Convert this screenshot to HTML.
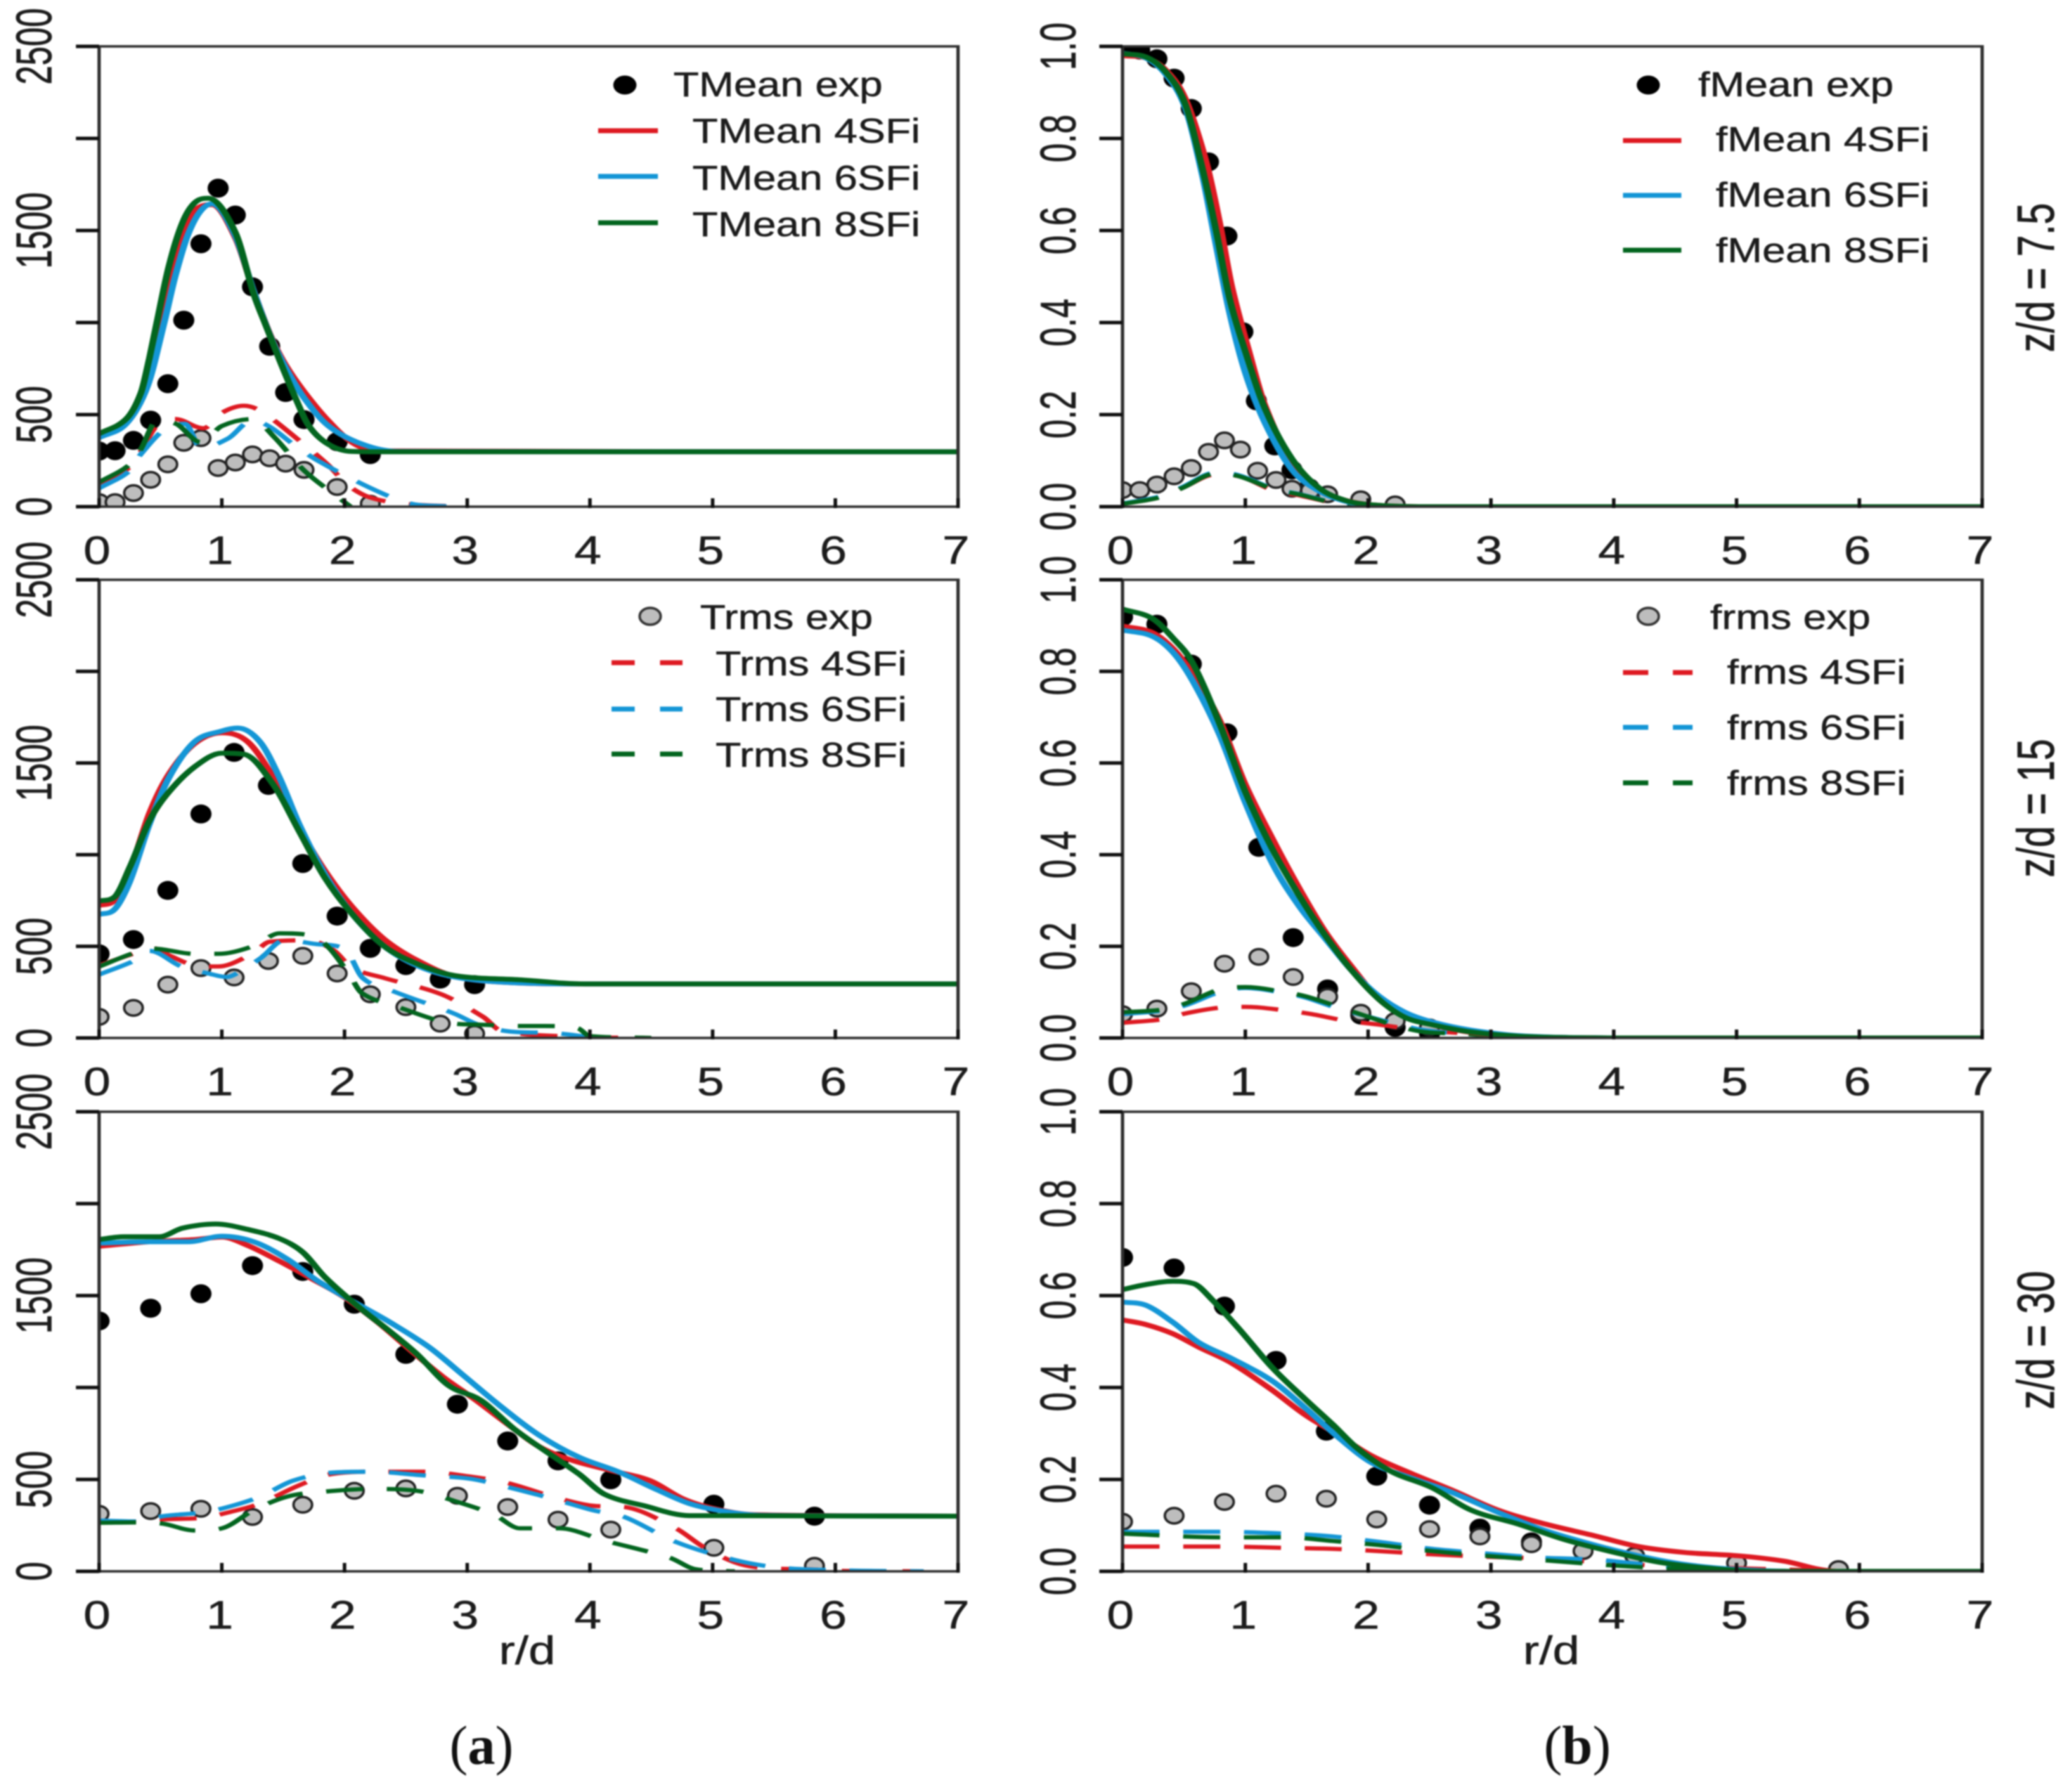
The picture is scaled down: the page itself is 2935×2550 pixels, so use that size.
<!DOCTYPE html>
<html lang="en">
<head>
<meta charset="utf-8">
<title>Radial profiles of T and f at three z/d stations</title>
<style>
html,body{margin:0;padding:0;background:#fff;}
#fig{display:block;width:2935px;height:2550px;filter:blur(1px);}
text{font-family:"Liberation Sans",sans-serif;fill:#1c1c1c;stroke:#1c1c1c;stroke-width:.5px;}
text.serif{font-family:"Liberation Serif",serif;fill:#111;stroke:none;}
</style>
</head>
<body>
<svg id="fig" xmlns="http://www.w3.org/2000/svg" width="2935" height="2550" viewBox="0 0 2935 2550"></svg>
<script>
/* axis tick data */
const xTicks = [0,1,2,3,4,5,6,7];
const tTicks = [0,500,1000,1500,2000,2500];
const tTickLabels = ['0','500','','1500','','2500'];
const fTicks = [0,0.2,0.4,0.6,0.8,1.0];
const fTickLabels = ['0.0','0.2','0.4','0.6','0.8','1.0'];

/* panel a1: temperature, z/d = 7.5 */
const a1MeanExpR = [0,.13,.28,.42,.56,.69,.83,.97,1.11,1.25,1.39,1.52,1.67,1.94,2.21];
const a1MeanExpV = [302,304,360,470,668,1013,1428,1730,1584,1194,871,620,473,353,283];
const a1RmsExpR = [0,.13,.28,.42,.56,.69,.83,.97,1.11,1.25,1.39,1.52,1.67,1.94,2.21];
const a1RmsExpV = [25,25,74,146,230,347,372,210,240,284,263,234,200,107,16];
const a1MeanRedR = [0,.22,.37,.5,.6,.7,.8,.92,1.11,1.26,1.4,1.52,1.67,1.87,2.06,2.25,7];
const a1MeanRedV = [385,465,640,999,1270,1490,1620,1640,1460,1170,925,770,625,465,350,303,298];
const a1MeanBlueR = [0,.22,.395,.53,.62,.72,.82,.92,1.11,1.26,1.4,1.52,1.67,1.87,2.15,2.44,7];
const a1MeanBlueV = [375,450,655,999,1250,1470,1600,1645,1470,1170,920,755,591,438,338,300,298];
const a1MeanGreenR = [0,.22,.34,.41,.47,.57,.68,.78,.89,1.11,1.26,1.35,1.48,1.6,1.71,1.87,2.06,2.3,7];
const a1MeanGreenV = [396,476,617,808,999,1310,1544,1651,1675,1490,1155,999,781,591,438,338,300,298,298];
const a1RmsRedR = [0,.24,.34,.47,.62,.85,1,1.18,1.33,1.67,1.87,2.02,2.2,2.5,3];
const a1RmsRedV = [125,210,300,440,476,426,510,548,514,338,224,121,52,15,0];
const a1RmsBlueR = [0,.24,.34,.53,.7,.83,1.05,1.25,1.4,1.58,1.79,2.21,2.53,2.8,3];
const a1RmsBlueV = [100,190,285,418,450,320,370,470,430,340,247,102,18,3,0];
const a1RmsGreenR = [0,.24,.34,.47,.62,.83,1,1.25,1.43,1.67,1.96,2.05];
const a1RmsGreenV = [133,224,312,464,452,350,438,476,376,197,45,0];

/* panel a2: temperature, z/d = 15 */
const a2MeanExpR = [0,.28,.56,.83,1.10,1.38,1.66,1.94,2.21,2.50,2.78,3.06];
const a2MeanExpV = [459,537,805,1222,1558,1378,952,665,489,395,321,291];
const a2RmsExpR = [0,.28,.56,.83,1.10,1.38,1.66,1.94,2.21,2.50,2.78,3.06];
const a2RmsExpV = [115,164,291,381,330,420,448,352,238,168,78,23];
const a2MeanRedR = [0,.12,.25,.41,.57,.78,1,1.21,1.42,1.63,1.84,2.06,2.32,2.59,2.9,3.33,3.96,7];
const a2MeanRedV = [723,747,913,1226,1441,1607,1665,1617,1421,1147,913,717,541,424,336,303,295,295];
const a2MeanBlueR = [0,.12,.25,.41,.57,.78,1,1.13,1.31,1.47,1.63,1.84,2.06,2.32,2.59,2.9,3.33,3.96,7];
const a2MeanBlueV = [674,698,854,1167,1421,1617,1675,1691,1617,1421,1167,893,678,502,395,332,303,295,295];
const a2MeanGreenR = [0,.12,.25,.41,.57,.78,1,1.18,1.42,1.63,1.84,2.06,2.32,2.59,2.9,3.44,3.96,7];
const a2MeanGreenV = [747,766,932,1186,1343,1480,1554,1548,1382,1128,874,678,502,405,340,317,295,295];
const a2RmsRedR = [0,.28,.44,.58,.75,.97,1.25,1.39,1.7,1.91,2.06,2.33,2.79,3.13,3.28,4,4.5];
const a2RmsRedV = [395,460,490,448,402,390,460,525,533,479,383,326,238,115,38,5,0];
const a2RmsBlueR = [0,.28,.41,.67,.89,1.04,1.17,1.32,1.51,1.76,2.0,2.15,2.42,2.89,3.09,3.35,3.7,4];
const a2RmsBlueV = [346,420,475,390,352,333,372,437,533,513,487,326,249,134,73,35,27,5];
const a2RmsGreenR = [0,.28,.44,.78,.97,1.26,1.47,1.74,1.88,2.04,2.14,2.42,2.91,3.09,3.45,3.63,3.9,4,4.5];
const a2RmsGreenV = [389,463,487,459,459,502,571,557,487,345,245,172,77,73,65,65,53,10,0];

/* panel a3: temperature, z/d = 30 */
const a3MeanExpR = [0,.42,.83,1.25,1.66,2.08,2.50,2.92,3.33,3.74,4.17,5.01,5.83];
const a3MeanExpV = [1362,1431,1510,1663,1631,1453,1180,909,709,601,498,365,300];
const a3RmsExpR = [0,.42,.83,1.25,1.66,2.08,2.50,2.92,3.33,3.74,4.17,5.01,5.83];
const a3RmsExpV = [313,328,340,296,362,438,451,411,350,281,227,128,30];
const a3MeanRedR = [0,.41,.78,1,1.21,1.47,1.74,2,2.27,2.53,2.8,3.06,3.33,3.59,3.86,4.17,4.49,4.76,5.02,5.34,7];
const a3MeanRedV = [1768,1793,1805,1818,1773,1687,1589,1490,1355,1207,1059,936,800,677,603,549,493,394,340,308,300];
const a3MeanBlueR = [0,.41,.73,1,1.26,1.53,1.79,2.11,2.37,2.69,2.96,3.27,3.59,3.91,4.23,4.55,4.81,5.08,5.39,7];
const a3MeanBlueV = [1786,1793,1793,1823,1793,1700,1576,1453,1355,1219,1071,899,739,621,542,443,369,328,305,300];
const a3MeanGreenR = [0,.2,.49,.68,.95,1.21,1.47,1.66,1.84,2.11,2.37,2.59,2.85,3.11,3.38,3.64,3.91,4.12,4.44,4.81,7];
const a3MeanGreenV = [1805,1820,1820,1867,1889,1860,1810,1736,1601,1441,1305,1182,1010,931,776,653,530,419,357,303,300];
const a3RmsRedR = [0,.31,.52,.84,1.05,1.31,1.63,1.9,2.27,2.64,3.01,3.33,3.7,4.02,4.28,4.7,4.92,5.18,5.39,5.82,6.08,6.72];
const a3RmsRedV = [271,271,283,291,320,369,468,530,542,542,517,480,406,357,350,234,135,49,20,10,2,0];
const a3RmsBlueR = [0,.31,.52,.84,1.05,1.31,1.58,1.9,2.22,2.64,3.01,3.27,3.7,4.02,4.28,4.7,5.18,5.55,6.08,6.72];
const a3RmsBlueV = [276,271,300,320,350,406,493,537,542,522,505,468,394,333,296,160,62,20,5,0];
const a3RmsGreenR = [0,.31,.52,.78,1,1.26,1.53,1.79,2.22,2.59,2.9,3.22,3.43,3.75,4.12,4.65,4.86,5.18];
const a3RmsGreenV = [264,266,259,222,234,333,406,431,448,438,382,308,234,234,167,74,12,0];

/* panel b1: mixture fraction, z/d = 7.5 */
const b1MeanExpR = [0,.14,.28,.42,.56,.70,.85,.98,1.09,1.24,1.38,1.52];
const b1MeanExpV = [1.0,.992,.973,.931,.865,.749,.588,.38,.23,.132,.08,.041];
const b1RmsExpR = [0,.14,.28,.42,.56,.70,.83,.96,1.10,1.25,1.38,1.53,1.67,1.94,2.22];
const b1RmsExpV = [.036,.036,.048,.066,.084,.119,.144,.124,.078,.058,.039,.035,.027,.016,.005];
const b1MeanRedR = [0,.19,.35,.51,.68,.79,.89,1.03,1.16,1.38,1.6,1.81,2.03,2.41,7];
const b1MeanRedV = [.98,.975,.949,.887,.75,.618,.478,.337,.22,.096,.037,.014,.004,0,0];
const b1MeanBlueR = [0,.19,.35,.51,.65,.76,.87,1,1.16,1.38,1.6,1.81,2.03,2.41,7];
const b1MeanBlueV = [.985,.975,.94,.867,.72,.571,.423,.291,.182,.08,.034,.012,.003,0,0];
const b1MeanGreenR = [0,.19,.35,.51,.65,.76,.87,1,1.16,1.38,1.6,1.81,2.03,2.41,7];
const b1MeanGreenV = [.984,.977,.945,.875,.735,.602,.454,.337,.213,.104,.041,.014,.004,0,0];
const b1RmsRedR = [0,.3,.49,.76,.95,1.24,1.43,1.76,2.03];
const b1RmsRedV = [.006,.02,.041,.07,.066,.034,.025,.006,0];
const b1RmsBlueR = [0,.3,.49,.76,.95,1.24,1.43,1.76,2.03];
const b1RmsBlueV = [.007,.022,.043,.074,.068,.038,.028,.007,0];
const b1RmsGreenR = [0,.3,.49,.76,.95,1.24,1.43,1.76,2.03];
const b1RmsGreenV = [.006,.02,.041,.072,.066,.037,.027,.006,0];

/* panel b2: mixture fraction, z/d = 15 */
const b2MeanExpR = [0,.28,.56,.85,1.11,1.39,1.67,1.94,2.22,2.50];
const b2MeanExpV = [.919,.903,.816,.666,.416,.219,.107,.05,.023,.01];
const b2RmsExpR = [0,.28,.56,.83,1.11,1.39,1.67,1.94,2.22,2.50];
const b2RmsExpV = [.052,.064,.102,.162,.177,.133,.09,.055,.037,.023];
const b2MeanRedR = [0,.24,.41,.57,.79,1,1.22,1.44,1.65,1.87,2.09,2.30,2.52,2.84,3.28,4.04,7];
const b2MeanRedV = [.899,.885,.85,.795,.694,.553,.435,.326,.232,.154,.084,.048,.029,.012,.003,0,0];
const b2MeanBlueR = [0,.24,.41,.57,.79,1,1.22,1.44,1.65,1.87,2.09,2.30,2.52,2.84,3.28,4.04,7];
const b2MeanBlueV = [.89,.877,.842,.78,.662,.514,.381,.287,.217,.146,.091,.056,.035,.017,.004,0,0];
const b2MeanGreenR = [0,.24,.41,.57,.79,1,1.22,1.44,1.65,1.87,2.09,2.30,2.52,2.84,3.28,4.04,7];
const b2MeanGreenV = [.936,.916,.873,.819,.686,.537,.412,.31,.224,.146,.084,.045,.029,.013,.003,0,0];
const b2RmsRedR = [0,.33,.52,.79,1,1.33,1.54,1.81,2.09,2.36,2.84,3.33,4.3];
const b2RmsRedV = [.033,.041,.054,.066,.068,.06,.052,.038,.029,.019,.009,.002,0];
const b2RmsBlueR = [0,.33,.52,.79,1,1.3,1.49,1.76,1.98,2.25,2.46,2.79,3.33,4.3];
const b2RmsBlueV = [.052,.06,.072,.1,.109,.099,.088,.064,.048,.029,.017,.009,.003,0];
const b2RmsGreenR = [0,.33,.52,.79,1,1.3,1.49,1.76,1.98,2.25,2.46,2.79,3.06,4.3];
const b2RmsGreenV = [.056,.062,.076,.106,.111,.101,.091,.068,.048,.025,.013,.009,.003,0];

/* panel b3: mixture fraction, z/d = 30 */
const b3MeanExpR = [0,.42,.83,1.25,1.66,2.07,2.50,2.91,3.33];
const b3MeanExpV = [.683,.66,.577,.459,.305,.207,.144,.094,.064];
const b3RmsExpR = [0,.42,.83,1.25,1.66,2.07,2.50,2.91,3.33,3.75,4.17,5.0,5.83];
const b3RmsExpV = [.108,.121,.151,.169,.158,.113,.092,.076,.059,.044,.034,.018,.005];
const b3MeanRedR = [0,.19,.41,.62,.89,1.22,1.49,1.76,2.03,2.36,2.68,3.06,3.44,3.82,4.2,4.58,5.01,5.39,5.66,5.82,7];
const b3MeanRedV = [.547,.537,.517,.488,.453,.394,.34,.296,.251,.212,.177,.133,.103,.079,.054,.041,.034,.022,.005,0,0];
const b3MeanBlueR = [0,.19,.41,.62,.89,1.22,1.49,1.76,2.03,2.36,2.68,3.06,3.44,3.82,4.2,4.58,5.01,5.5,7];
const b3MeanBlueV = [.586,.579,.542,.498,.463,.414,.355,.291,.236,.202,.172,.128,.089,.059,.034,.015,.004,0,0];
const b3MeanGreenR = [0,.19,.41,.58,.73,.95,1.22,1.49,1.71,1.92,2.19,2.52,2.84,3.22,3.6,4.04,4.41,4.85,5.23,7];
const b3MeanGreenV = [.613,.624,.631,.626,.591,.527,.443,.374,.32,.266,.217,.182,.133,.103,.069,.039,.018,.005,0,0];
const b3RmsRedR = [0,.79,1.33,1.71,2.09,2.52,2.95,3.39,3.87,4.36,4.85,5.66,6];
const b3RmsRedV = [.054,.054,.051,.049,.044,.037,.032,.028,.02,.012,.008,.002,0];
const b3RmsBlueR = [0,.79,1.33,1.71,2.09,2.52,2.95,3.39,3.87,4.36,4.85,5.39];
const b3RmsBlueV = [.086,.086,.082,.076,.064,.049,.039,.03,.025,.012,.002,0];
const b3RmsGreenR = [0,.79,1.33,1.71,2.09,2.52,2.95,3.39,3.87,4.36,4.85,5.39];
const b3RmsGreenV = [.082,.074,.074,.066,.057,.044,.034,.025,.015,.007,.001,0];

/* series colours */
const redColor = '#de1a22';
const blueColor = '#1496d6';
const greenColor = '#03651f';

const NS = 'http://www.w3.org/2000/svg';
const svg = document.getElementById('fig');
/* the source figure is stretched horizontally; strokes and dashes are drawn in that stretched space */
const stretch = 1.35;

function mk(tag, parent, attrs) {
  const e = document.createElementNS(NS, tag);
  for (const k in attrs) e.setAttribute(k, attrs[k]);
  parent.appendChild(e);
  return e;
}

function label(parent, str, x, y, fs, sx, sy, rot, anchor, name) {
  const t = mk('text', parent, {
    'font-size': fs,
    'text-anchor': anchor,
    transform: 'translate(' + x + ',' + y + ')' + (rot ? ' rotate(-90)' : '') + ' scale(' + sx + ',' + sy + ')'
  });
  t.textContent = str;
  
  
  return t;
}

function curvePath(sx, sy, rs, vs) {
  const n = rs.length;
  const px = rs.map(r => sx(r) / stretch), py = vs.map(sy);
  const m = [];
  for (let i = 0; i < n; i++) {
    if (i === 0) m.push((py[1] - py[0]) / (px[1] - px[0]));
    else if (i === n - 1) m.push((py[n - 1] - py[n - 2]) / (px[n - 1] - px[n - 2]));
    else {
      const a = (py[i] - py[i - 1]) / (px[i] - px[i - 1]);
      const b = (py[i + 1] - py[i]) / (px[i + 1] - px[i]);
      if (a * b <= 0) m.push(0);
      else {
        const c = (py[i + 1] - py[i - 1]) / (px[i + 1] - px[i - 1]);
        const lim = 3 * Math.min(Math.abs(a), Math.abs(b));
        m.push(Math.sign(c) * Math.min(Math.abs(c), lim));
      }
    }
  }
  let d = 'M' + px[0].toFixed(1) + ' ' + py[0].toFixed(1);
  for (let i = 0; i < n - 1; i++) {
    const h = (px[i + 1] - px[i]) / 3;
    d += 'C' + (px[i] + h).toFixed(1) + ' ' + (py[i] + m[i] * h).toFixed(1) + ' ' +
         (px[i + 1] - h).toFixed(1) + ' ' + (py[i + 1] - m[i + 1] * h).toFixed(1) + ' ' +
         px[i + 1].toFixed(1) + ' ' + py[i + 1].toFixed(1);
  }
  return d;
}

function panel(cfg) {
  const g = mk('g', svg, {});
  
  
  const sx = r => cfg.x0 + (r / 7) * (cfg.x1 - cfg.x0);
  const sy = v => cfg.yBot - (v / cfg.yMax) * (cfg.yBot - cfg.yTop);

  const clipId = 'clip-' + cfg.name;
  const cp = mk('clipPath', g, { id: clipId });
  mk('rect', cp, { x: cfg.x0, y: cfg.yTop, width: cfg.x1 - cfg.x0, height: cfg.yBot - cfg.yTop });
  const marks = mk('g', g, { 'clip-path': 'url(#' + clipId + ')' });

  function points(rs, vs, fill, name) {
    rs.forEach((r, i) => {
      const c = mk('ellipse', marks, {
        cx: sx(r), cy: sy(vs[i]),
        rx: fill === '#000' ? 15 : 13.2, ry: fill === '#000' ? 13.5 : 11,
        fill: fill, stroke: fill === '#000' ? 'none' : '#222', 'stroke-width': 3.5
      });
      
      
    });
  }
  points(cfg.meanExp[0], cfg.meanExp[1], '#000', 'mean-exp-point');
  points(cfg.rmsExp[0], cfg.rmsExp[1], '#bdbdbd', 'rms-exp-point');

  const lines = mk('g', marks, { transform: 'scale(' + stretch + ',1)' });
  function line(rs, vs, color, dashed, name) {
    const p = mk('path', lines, {
      d: curvePath(sx, sy, rs, vs), fill: 'none', stroke: color,
      'stroke-width': dashed ? 6 : 7, 'stroke-linejoin': 'round',
      'stroke-dasharray': dashed ? '39 25' : 'none'
    });
    
    
  }
  line(cfg.rmsRed[0], cfg.rmsRed[1], redColor, true, 'rms-4sfi-line');
  line(cfg.rmsBlue[0], cfg.rmsBlue[1], blueColor, true, 'rms-6sfi-line');
  line(cfg.rmsGreen[0], cfg.rmsGreen[1], greenColor, true, 'rms-8sfi-line');
  line(cfg.meanRed[0], cfg.meanRed[1], redColor, false, 'mean-4sfi-line');
  line(cfg.meanBlue[0], cfg.meanBlue[1], blueColor, false, 'mean-6sfi-line');
  line(cfg.meanGreen[0], cfg.meanGreen[1], greenColor, false, 'mean-8sfi-line');

  const frame = mk('rect', g, {
    x: cfg.x0 / stretch, y: cfg.yTop, width: (cfg.x1 - cfg.x0) / stretch, height: cfg.yBot - cfg.yTop,
    fill: 'none', stroke: '#2e2e2e', 'stroke-width': 3.5, transform: 'scale(' + stretch + ',1)'
  });
  
  

  xTicks.forEach(t => {
    const k = mk('line', g, {
      x1: sx(t), x2: sx(t), y1: cfg.yBot - 12, y2: cfg.yBot + 2, stroke: '#111', 'stroke-width': 5
    });
    
    
    label(g, String(t), sx(t) - 3, cfg.yBot + 81.5, 57, 1.22, 1, false, 'middle', 'x-tick-label');
  });
  cfg.yTicks.forEach((t, i) => {
    const k = mk('line', g, {
      x1: cfg.x0 - 33, x2: cfg.x0, y1: sy(t), y2: sy(t), stroke: '#111', 'stroke-width': 5
    });
    
    
    if (cfg.yTickLabels[i]) {
      label(g, cfg.yTickLabels[i], cfg.labelX, sy(t), 50, 0.98, 1.42, true, 'middle', 'y-tick-label');
    }
  });
}

panel({ name: 'panel-temperature-z7-5', x0: 141, x1: 1363, yTop: 66, yBot: 721, yMax: 2500,
  yTicks: tTicks, yTickLabels: tTickLabels, labelX: 73,
  meanExp: [a1MeanExpR, a1MeanExpV], rmsExp: [a1RmsExpR, a1RmsExpV],
  meanRed: [a1MeanRedR, a1MeanRedV], meanBlue: [a1MeanBlueR, a1MeanBlueV], meanGreen: [a1MeanGreenR, a1MeanGreenV],
  rmsRed: [a1RmsRedR, a1RmsRedV], rmsBlue: [a1RmsBlueR, a1RmsBlueV], rmsGreen: [a1RmsGreenR, a1RmsGreenV] });
panel({ name: 'panel-temperature-z15', x0: 141, x1: 1363, yTop: 825, yBot: 1477, yMax: 2500,
  yTicks: tTicks, yTickLabels: tTickLabels, labelX: 73,
  meanExp: [a2MeanExpR, a2MeanExpV], rmsExp: [a2RmsExpR, a2RmsExpV],
  meanRed: [a2MeanRedR, a2MeanRedV], meanBlue: [a2MeanBlueR, a2MeanBlueV], meanGreen: [a2MeanGreenR, a2MeanGreenV],
  rmsRed: [a2RmsRedR, a2RmsRedV], rmsBlue: [a2RmsBlueR, a2RmsBlueV], rmsGreen: [a2RmsGreenR, a2RmsGreenV] });
panel({ name: 'panel-temperature-z30', x0: 141, x1: 1363, yTop: 1582, yBot: 2236, yMax: 2500,
  yTicks: tTicks, yTickLabels: tTickLabels, labelX: 73,
  meanExp: [a3MeanExpR, a3MeanExpV], rmsExp: [a3RmsExpR, a3RmsExpV],
  meanRed: [a3MeanRedR, a3MeanRedV], meanBlue: [a3MeanBlueR, a3MeanBlueV], meanGreen: [a3MeanGreenR, a3MeanGreenV],
  rmsRed: [a3RmsRedR, a3RmsRedV], rmsBlue: [a3RmsBlueR, a3RmsBlueV], rmsGreen: [a3RmsGreenR, a3RmsGreenV] });
panel({ name: 'panel-mixture-z7-5', x0: 1597, x1: 2820, yTop: 66, yBot: 721, yMax: 1,
  yTicks: fTicks, yTickLabels: fTickLabels, labelX: 1530,
  meanExp: [b1MeanExpR, b1MeanExpV], rmsExp: [b1RmsExpR, b1RmsExpV],
  meanRed: [b1MeanRedR, b1MeanRedV], meanBlue: [b1MeanBlueR, b1MeanBlueV], meanGreen: [b1MeanGreenR, b1MeanGreenV],
  rmsRed: [b1RmsRedR, b1RmsRedV], rmsBlue: [b1RmsBlueR, b1RmsBlueV], rmsGreen: [b1RmsGreenR, b1RmsGreenV] });
panel({ name: 'panel-mixture-z15', x0: 1597, x1: 2820, yTop: 825, yBot: 1477, yMax: 1,
  yTicks: fTicks, yTickLabels: fTickLabels, labelX: 1530,
  meanExp: [b2MeanExpR, b2MeanExpV], rmsExp: [b2RmsExpR, b2RmsExpV],
  meanRed: [b2MeanRedR, b2MeanRedV], meanBlue: [b2MeanBlueR, b2MeanBlueV], meanGreen: [b2MeanGreenR, b2MeanGreenV],
  rmsRed: [b2RmsRedR, b2RmsRedV], rmsBlue: [b2RmsBlueR, b2RmsBlueV], rmsGreen: [b2RmsGreenR, b2RmsGreenV] });
panel({ name: 'panel-mixture-z30', x0: 1597, x1: 2820, yTop: 1582, yBot: 2236, yMax: 1,
  yTicks: fTicks, yTickLabels: fTickLabels, labelX: 1530,
  meanExp: [b3MeanExpR, b3MeanExpV], rmsExp: [b3RmsExpR, b3RmsExpV],
  meanRed: [b3MeanRedR, b3MeanRedV], meanBlue: [b3MeanBlueR, b3MeanBlueV], meanGreen: [b3MeanGreenR, b3MeanGreenV],
  rmsRed: [b3RmsRedR, b3RmsRedV], rmsBlue: [b3RmsBlueR, b3RmsBlueV], rmsGreen: [b3RmsGreenR, b3RmsGreenV] });

/* legends */
function legend(title, dotX, dotY, fill, titleX, titleY, rowNames, rowX, rowBase, lineX1, lineX2, lineY, dash, name) {
  const g = mk('g', svg, {});
  
  
  const d = mk('ellipse', g, {
    cx: dotX, cy: dotY, rx: fill === '#000' ? 16.5 : 15, ry: fill === '#000' ? 13.5 : 12,
    fill: fill, stroke: fill === '#000' ? 'none' : '#333', 'stroke-width': 3.5
  });
  
  
  label(g, title, titleX, titleY, 49, 1.215, 1, false, 'start', 'legend-label');
  const colors = [redColor, blueColor, greenColor];
  rowNames.forEach((nm, i) => {
    const l = mk('line', g, {
      x1: lineX1, x2: lineX2, y1: lineY[i], y2: lineY[i], stroke: colors[i], 'stroke-width': 7,
      'stroke-dasharray': dash || 'none'
    });
    
    
    label(g, nm, rowX, rowBase[i], 49, 1.215, 1, false, 'start', 'legend-label');
  });
}
legend('TMean exp', 889, 121, '#000', 958, 137, ['TMean 4SFi','TMean 6SFi','TMean 8SFi'], 985,
  [203,270,336], 851, 936, [186,251,317], null, 'legend-temperature-mean');
legend('Trms exp', 925, 877, '#bdbdbd', 996, 895, ['Trms 4SFi','Trms 6SFi','Trms 8SFi'], 1018,
  [961,1026,1091], 870, 971, [943,1009,1073], '33 36', 'legend-temperature-rms');
legend('fMean exp', 2345, 121, '#000', 2416, 137, ['fMean 4SFi','fMean 6SFi','fMean 8SFi'], 2441,
  [215,294,373], 2309, 2392, [200,278,356], null, 'legend-mixture-mean');
legend('frms exp', 2345, 877, '#bdbdbd', 2433, 895, ['frms 4SFi','frms 6SFi','frms 8SFi'], 2457,
  [973,1052,1131], 2309, 2408, [957,1035,1114], '36 35', 'legend-mixture-rms');

/* outer labels */
label(svg, 'z/d = 7.5', 2922, 395, 50, 1.1, 1.48, true, 'middle', 'row-label-z7-5');
label(svg, 'z/d = 15', 2922, 1150, 50, 1.1, 1.48, true, 'middle', 'row-label-z15');
label(svg, 'z/d = 30', 2922, 1907, 50, 1.1, 1.48, true, 'middle', 'row-label-z30');
label(svg, 'r/d', 750, 2368, 57, 1.21, 1, false, 'middle', 'x-axis-title-left');
label(svg, 'r/d', 2207, 2368, 57, 1.21, 1, false, 'middle', 'x-axis-title-right');

function panelTag(letter, x, name) {
  const t = mk('text', svg, { x: x, y: 2510, 'font-size': 78, 'text-anchor': 'middle', class: 'serif' });
  
  
  const a = mk('tspan', t, {});
  a.textContent = '(';
  const b = mk('tspan', t, { 'font-weight': 'bold' });
  b.textContent = letter;
  const c = mk('tspan', t, {});
  c.textContent = ')';
}
panelTag('a', 685, 'caption-a');
panelTag('b', 2244, 'caption-b');
</script>
</body>
</html>
